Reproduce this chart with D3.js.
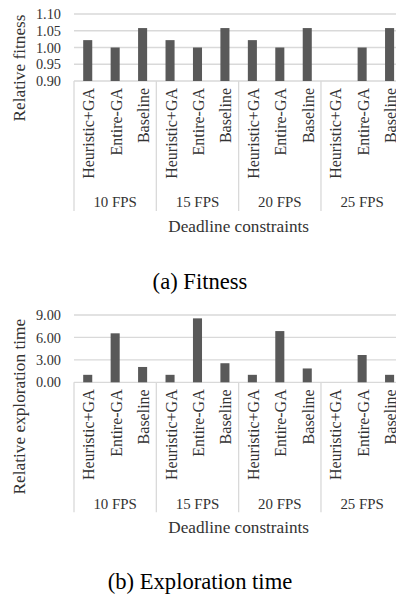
<!DOCTYPE html>
<html>
<head>
<meta charset="utf-8">
<script src="https://cdn.jsdelivr.net/npm/d3@7"></script>
<style>
  html, body { margin: 0; padding: 0; background: #fff; }
  svg { display: block; }
  text { font-family: "Liberation Serif", "Times New Roman", serif; fill: #333; }
</style>
</head>
<body>
<svg id="chart" width="396" height="599"></svg>
<script>
// Deadline groups and the three methods compared inside each group
const groups = ["10 FPS", "15 FPS", "20 FPS", "25 FPS"];
const methods = ["Heuristic+GA", "Entire-GA", "Baseline"];

// Relative fitness per group (null = no result)
const fitnessHeuristicGA = [1.022, 1.022, 1.022, null];
const fitnessEntireGA    = [1.000, 1.000, 1.000, 1.000];
const fitnessBaseline    = [1.058, 1.058, 1.058, 1.058];
const fitnessTicks = [0.90, 0.95, 1.00, 1.05, 1.10];

// Relative exploration time per group (null = no result)
const timeHeuristicGA = [1.00, 1.00, 1.00, null];
const timeEntireGA    = [6.55, 8.55, 6.85, 3.65];
const timeBaseline    = [2.05, 2.55, 1.85, 1.00];
const timeTicks = [0, 3, 6, 9];

const svg = d3.select("#chart");
const gridColor = "#d9d9d9";
const barColor = "#595959";

function drawPanel(opts) {
  const { series, ticks, yTitle, caption, yBottom, yTop, captionY } = opts;
  const left = 74, right = 403.3;

  const x0 = d3.scaleBand().domain(groups).range([left, right]).padding(0);
  const x1 = d3.scaleBand().domain(methods).range([0, x0.bandwidth()]).padding(0);
  const y = d3.scaleLinear().domain([ticks[0], ticks[ticks.length - 1]]).range([yBottom, yTop]);
  const barW = x1.bandwidth() * 0.33;

  const g = svg.append("g");

  // horizontal gridlines
  g.append("g").selectAll("line").data(ticks).join("line")
    .attr("x1", left).attr("x2", right)
    .attr("y1", d => y(d)).attr("y2", d => y(d))
    .attr("stroke", gridColor).attr("stroke-width", 1.3);

  // y tick labels
  const yAxis = g.append("g").attr("transform", `translate(${left - 13},0)`)
    .call(d3.axisLeft(y).tickValues(ticks).tickSize(0).tickFormat(d3.format(".2f")));
  yAxis.select(".domain").remove();
  yAxis.selectAll("text")
    .attr("x", 0)
    .style("font-family", "Liberation Serif, serif")
    .style("font-size", "14.3px")
    .attr("fill", "#333");

  // bars
  const rows = groups.flatMap((grp, i) =>
    methods.map((m, j) => ({ grp, m, v: series[j][i] })));
  g.append("g").selectAll("rect")
    .data(rows.filter(d => d.v != null))
    .join("rect")
    .attr("x", d => x0(d.grp) + x1(d.m) + (x1.bandwidth() - barW) / 2)
    .attr("width", barW)
    .attr("y", d => y(d.v))
    .attr("height", d => y(ticks[0]) - y(d.v))
    .attr("fill", barColor);

  // category separators (multi-level axis)
  const sepLen = 130;
  g.append("g").selectAll("line").data(groups.concat(["__end"])).join("line")
    .attr("x1", (d, i) => i < groups.length ? x0(d) : right)
    .attr("x2", (d, i) => i < groups.length ? x0(d) : right)
    .attr("y1", yBottom).attr("y2", yBottom + sepLen)
    .attr("stroke", gridColor).attr("stroke-width", 1.3);

  // method labels, rotated
  g.append("g").selectAll("text").data(rows).join("text")
    .attr("transform", d => `translate(${x0(d.grp) + x1(d.m) + x1.bandwidth() / 2 + 0.9},${yBottom + 7}) rotate(-90)`)
    .attr("text-anchor", "end")
    .attr("dy", "0.35em")
    .style("font-size", "16px")
    .text(d => d.m);

  // group labels
  g.append("g").selectAll("text").data(groups).join("text")
    .attr("x", d => x0(d) + x0.bandwidth() / 2)
    .attr("y", yBottom + 126.3)
    .attr("text-anchor", "middle")
    .style("font-size", "14.9px")
    .text(d => d);

  // x axis title
  g.append("text")
    .attr("x", (left + right) / 2)
    .attr("y", yBottom + 150.6)
    .attr("text-anchor", "middle")
    .style("font-size", "17.2px")
    .text("Deadline constraints");

  // y axis title
  g.append("text")
    .attr("transform", `translate(25,${opts.yTitleCenter}) rotate(-90)`)
    .attr("text-anchor", "middle")
    .style("font-size", opts.yTitleSize)
    .text(yTitle);

  // sub-figure caption
  svg.append("text")
    .attr("x", 200)
    .attr("y", captionY)
    .attr("text-anchor", "middle")
    .style("font-size", "22.6px")
    .style("fill", "#000")
    .text(caption);
}

drawPanel({
  series: [fitnessHeuristicGA, fitnessEntireGA, fitnessBaseline],
  ticks: fitnessTicks,
  yTitle: "Relative fitness",
  yTitleCenter: 68,
  yTitleSize: "17.3px",
  caption: "(a) Fitness",
  yBottom: 81,
  yTop: 14,
  captionY: 288.5
});

drawPanel({
  series: [timeHeuristicGA, timeEntireGA, timeBaseline],
  ticks: timeTicks,
  yTitle: "Relative exploration time",
  yTitleCenter: 406.7,
  yTitleSize: "17.3px",
  caption: "(b) Exploration time",
  yBottom: 382.3,
  yTop: 315,
  captionY: 588.5
});
</script>
</body>
</html>
